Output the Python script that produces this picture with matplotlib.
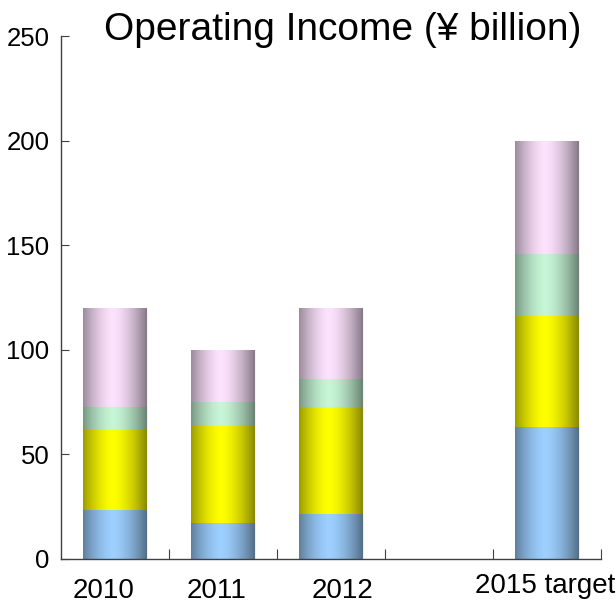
import numpy as np
import matplotlib
matplotlib.use("Agg")
from matplotlib import pyplot as plt

plt.rcParams['font.family'] = ['Liberation Sans', 'DejaVu Sans']

# operating income by segment, in yen billion (bottom to top)
years = ['2010', '2011', '2012', '2015 target']
xpos = [1, 2, 3, 5]
seg_blue = [23.4, 17.1, 21.5, 63.2]
seg_yellow = [38.7, 47.0, 51.2, 53.0]
seg_green = [10.4, 10.8, 13.3, 29.6]
seg_pink = [47.5, 25.1, 34.0, 54.2]

segments = [seg_blue, seg_yellow, seg_green, seg_pink]
colors = ['#9dcfff', '#ffff00', '#c6f6d6', '#fde2fd']

# where the year labels sit under the axis (x in data units, baseline offset in points)
label_x = [0.90, 1.94, 3.11, 4.98]
label_dy = [-28, -28, -28, -24.5]

def shade(t):
    # cylinder-like brightness across the bar width
    d = np.abs(t - 0.47) / 0.53
    return 1.0 - 0.47 * d ** 1.6

fig = plt.figure(figsize=(6.16, 6.03), dpi=100)
ax = fig.add_axes([0.0985, 0.073, 0.877, 0.867])

t = np.linspace(0, 1, 200)
prof = shade(t)

width = 0.59
bottoms = np.zeros(len(xpos))
for vals, col in zip(segments, colors):
    rgb = np.array(matplotlib.colors.to_rgb(col))
    img = (prof[:, None] * rgb[None, :])[None, :, :]
    bars = ax.bar(xpos, vals, width=width, bottom=bottoms, color=col,
                  edgecolor='#f4f4e8', linewidth=0.6, zorder=2)
    for b in bars:
        x0, y0 = b.get_x(), b.get_y()
        im = ax.imshow(img, extent=[x0, x0 + b.get_width(), y0, y0 + b.get_height()],
                       aspect='auto', interpolation='bilinear', zorder=2.5)
        im.set_clip_path(b)
    bottoms = bottoms + np.array(vals)

ax.set_xlim(0.5, 5.5)
ax.set_ylim(0, 250)
ax.set_aspect('auto')

for s in ['top', 'right']:
    ax.spines[s].set_visible(False)
for s in ['left', 'bottom']:
    ax.spines[s].set_color('#404040')
    ax.spines[s].set_linewidth(1.0)

ax.set_yticks([0, 50, 100, 150, 200, 250])
ax.tick_params(axis='y', direction='in', length=6, width=0.8, color='#404040',
               labelsize=18.5, pad=8)
ax.set_xticks([1.5, 2.5, 3.5, 4.5, 5.5])
ax.set_xticklabels([])
ax.tick_params(axis='x', which='major', direction='in', length=7, width=0.8, color='#404040')

for lx, dy, lab in zip(label_x, label_dy, years):
    ax.annotate(lab, xy=(lx, 0), xycoords=('data', 'axes fraction'),
                xytext=(0, dy), textcoords='offset points',
                ha='center', va='baseline', fontsize=20, annotation_clip=False)

fig.text(0.557, 0.951, 'Operating Income (\u00a5 billion)', ha='center', va='center',
         fontsize=28)

fig.savefig('out.png', dpi=100)
